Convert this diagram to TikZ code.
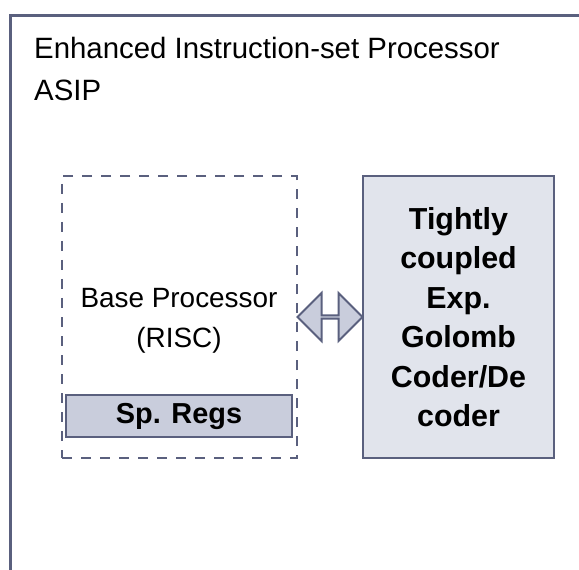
\documentclass[tikz,border=0pt]{standalone}
\usepackage{fontspec}
\setmainfont{Liberation Sans}
\usetikzlibrary{shapes.arrows,calc}
\definecolor{edge}{HTML}{5A607E}
\definecolor{lightfill}{HTML}{E1E4EC}
\definecolor{midfill}{HTML}{C9CDDC}
\tikzset{
  box/.style={draw=edge, line width=2.5bp, inner sep=0pt},
  dashbox/.style={draw=edge, line width=2.5bp, dash pattern=on 10bp off 9bp, inner sep=0pt},
  bigtxt/.style={font=\fontsize{28}{40}\selectfont, align=center, inner sep=0pt},
  regtxt/.style={font=\fontsize{29}{40}\selectfont\bfseries, align=center, inner sep=0pt},
  boldtxt/.style={font=\fontsize{30.5}{39.6}\selectfont\bfseries, align=center, inner sep=0pt},
  titletxt/.style={font=\fontsize{29.5}{42}\selectfont, anchor=base west, inner sep=0pt}
}
\begin{document}
\begin{tikzpicture}[x=1bp,y=-1bp]
\useasboundingbox (0,0) rectangle (579,570);
\clip (0,0) rectangle (579,570);
\fill[white] (0,0) rectangle (579,570);
\node[box, line width=3bp, anchor=north west, minimum width=700bp, minimum height=700bp] (outer) at (9,14) {};
\node[titletxt] (title1) at (34,59) {Enhanced Instruction-set Processor};
\node[titletxt] (title2) at (34,101) {ASIP};
\node[dashbox, minimum width=235bp, minimum height=282bp] (base) at (179.5,317) {};
\node[bigtxt] (basetext) at (179,321) {Base Processor\\(RISC)};
\node[box, line width=2bp, fill=midfill, minimum width=226bp, minimum height=42bp, regtxt] (regs) at (179,416) {Sp. Regs};
\node[box, fill=lightfill, minimum width=191bp, minimum height=282bp, boldtxt] (coder) at (458.5,317) {Tightly\\coupled\\Exp.\\Golomb\\Coder/De\\coder};
\node[double arrow, draw=edge, line width=2bp, fill=midfill, minimum width=48bp, minimum height=65bp, double arrow head extend=14bp, inner sep=0pt] (link) at ($(base.east)!0.5!(coder.west)$) {};
\end{tikzpicture}
\end{document}
